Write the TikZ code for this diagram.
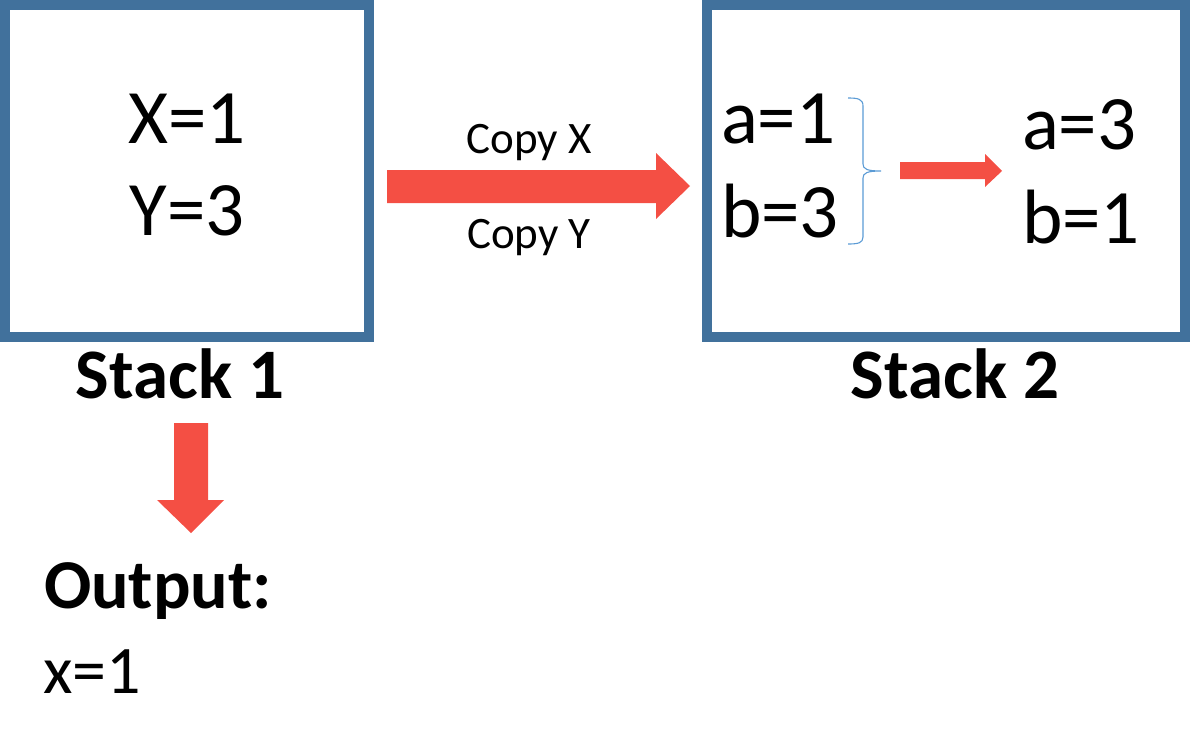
\documentclass[tikz,border=0pt]{standalone}
\usepackage{fontspec}
\setmainfont{Carlito}
\definecolor{boxblue}{HTML}{41719C}
\definecolor{arrred}{HTML}{F44F44}
\definecolor{braceblue}{HTML}{5B9BD5}
\begin{document}
\begin{tikzpicture}[x=1pt,y=-1pt,
  stackbox/.style={draw=boxblue,line width=10pt},
  blockarrow/.style={fill=arrred,draw=none},
  txt/.style={inner sep=0pt,outer sep=0pt,text=black},
  big/.style={txt,font=\fontsize{77}{80}\selectfont},
  lbl/.style={txt,font=\fontsize{71}{74}\selectfont\bfseries},
  small/.style={txt,font=\fontsize{45}{48}\selectfont}]
\useasboundingbox (0,0) rectangle (1200,755);
% boxes
\draw[stackbox] (5,5) rectangle (369,337);
\draw[stackbox] (707,5) rectangle (1185,337);
% stack 1 content
\node[big,anchor=base] (x1) at (187,143) {X=1};
\node[big,anchor=base] (y3) at (187,235) {Y=3};
\node[lbl,anchor=base] (s1) at (180,398) {Stack 1};
\node[lbl,anchor=base] (s2) at (955,398) {Stack 2};
% big arrow
\fill[blockarrow] (387,170) -- (656,170) -- (656,153) -- (690,186) -- (656,219) -- (656,203) -- (387,203) -- cycle;
\node[small,anchor=base] (cx) at (529,153) {Copy X};
\node[small,anchor=base] (cy) at (529,248) {Copy Y};
% stack 2 content
\node[big,anchor=base west] (a1) at (721,143) {a=1};
\node[big,anchor=base west] (b3) at (721,237) {b=3};
\node[big,anchor=base west] (a3) at (1022,149) {a=3};
\node[big,anchor=base west] (b1) at (1022,243) {b=1};
% brace
\draw[braceblue,line width=1.1pt] (848,98) .. controls (858,98) and (863,99) .. (863,106) -- (863,164)
  .. controls (863,169) and (867,171) .. (881,171)
  .. controls (867,171) and (863,173) .. (863,178) -- (863,237)
  .. controls (863,243) and (858,244) .. (848,244);
% small arrow
\fill[blockarrow] (900,162) -- (985,162) -- (985,154) -- (1002,171) -- (985,187) -- (985,179) -- (900,179) -- cycle;
% down arrow
\fill[blockarrow] (174,423) -- (208,423) -- (208,500) -- (224,500) -- (191,533) -- (157,500) -- (174,500) -- cycle;
% output
\node[txt,anchor=base west,font=\fontsize{70}{72}\selectfont\bfseries] (out) at (44,608) {Output:};
\node[txt,anchor=base west,font=\fontsize{68}{70}\selectfont] (x1o) at (43,693) {x=1};
\end{tikzpicture}
\end{document}
